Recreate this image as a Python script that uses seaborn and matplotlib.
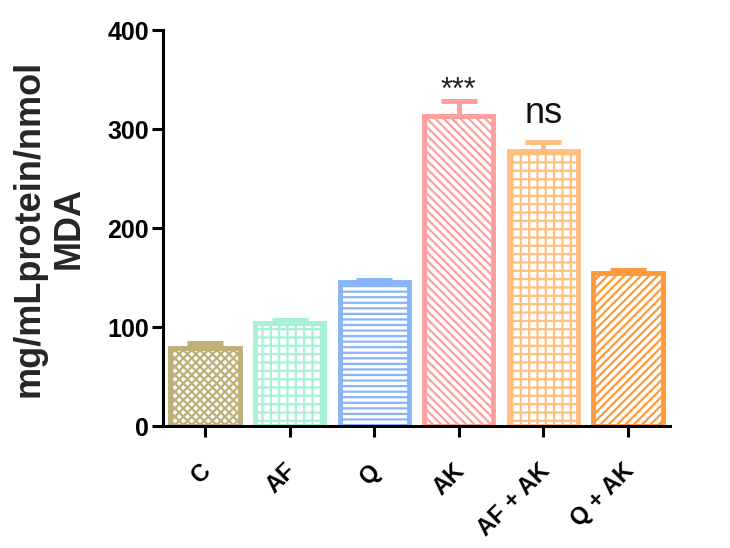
import matplotlib
matplotlib.use("Agg")
import matplotlib.pyplot as plt
import matplotlib.transforms as mtransforms
import seaborn as sns
import pandas as pd

# --- data ---
groups = ["C", "AF", "Q", "AK", "AF + AK", "Q + AK"]
mda_mean = [79, 104, 145, 313, 278, 155]
mda_sem = [5, 3, 2, 15, 9, 3]
bar_colors = ["#bfb07a", "#a8f0d8", "#8ab4f8", "#ff9e9e", "#ffbf80", "#ff9a3c"]
bar_hatches = ["xxxx", "++", "---", "\\\\\\\\", "++", "////"]
signif = {"AK": "***", "AF + AK": "ns"}

df = pd.DataFrame({"group": groups, "mda": mda_mean})

sns.set_style("ticks")
plt.rcParams["font.family"] = ["Liberation Sans", "DejaVu Sans"]
plt.rcParams["hatch.linewidth"] = 1.6

fig = plt.figure(figsize=(7.3, 5.48), dpi=100)
ax = fig.add_axes([0.223, 0.2226, 0.695, 0.7226])

sns.barplot(data=df, x="group", y="mda", hue="group", palette=bar_colors,
            legend=False, width=0.82, ax=ax)

for patch, col, h in zip(ax.patches, bar_colors, bar_hatches):
    patch.set_facecolor("white")
    patch.set_edgecolor(col)
    patch.set_linewidth(3.5)
    patch.set_hatch(h)

# upper-only error bars (SEM)
xs = list(range(len(groups)))
for x, m, e, col in zip(xs, mda_mean, mda_sem, bar_colors):
    ax.errorbar(x, m, yerr=[[0], [e]], color=col, elinewidth=3.6,
                capsize=13, capthick=3.6, zorder=1)

for g, txt in signif.items():
    i = groups.index(g)
    top = mda_mean[i] + mda_sem[i]
    if txt == "***":
        ax.text(i, top + 2, txt, ha="center", va="baseline", fontsize=22, color="#222222")
    else:
        ax.text(i, top + 19, txt, ha="center", va="baseline", fontsize=26, color="#111111")

ax.set_ylim(0, 400)
ax.set_xlim(-0.5, len(groups) - 0.5)
ax.set_yticks([0, 100, 200, 300, 400])
ax.set_xlabel("")
ax.set_ylabel("mg/mLprotein/nmol\nMDA", fontsize=26, fontweight="bold")
ax.yaxis.set_label_coords(-0.15, 0.5)

for side in ["top", "right"]:
    ax.spines[side].set_visible(False)
for side in ["left", "bottom"]:
    ax.spines[side].set_linewidth(2.2)
    ax.spines[side].set_color("black")

ax.tick_params(axis="both", width=2.2, length=8, direction="out", colors="black")
ax.tick_params(axis="y", labelsize=18, pad=2)
ax.tick_params(axis="x", labelsize=17, pad=16)
shift = mtransforms.ScaledTranslation(-4 / 72, 0, fig.dpi_scale_trans)
for lab in ax.get_yticklabels():
    lab.set_fontweight("bold")
for lab in ax.get_xticklabels():
    lab.set_fontweight("bold")
    lab.set_rotation(45)
    lab.set_ha("right")
    lab.set_rotation_mode("anchor")
    lab.set_transform(lab.get_transform() + shift)

fig.savefig("out.png", dpi=100)
